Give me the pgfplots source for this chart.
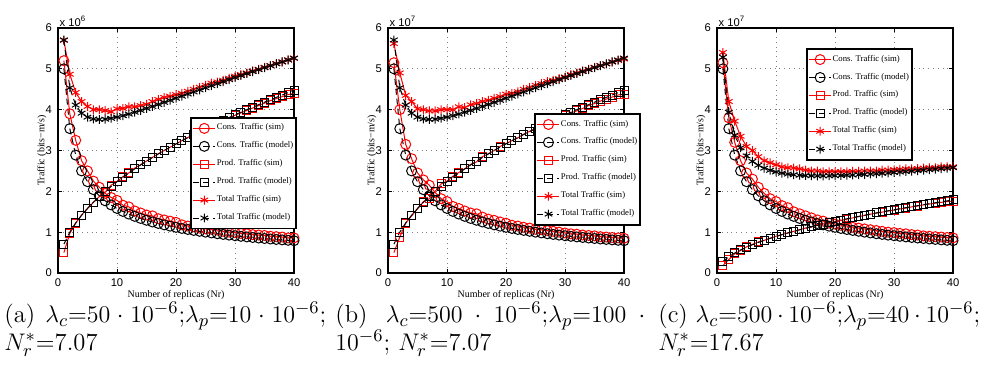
\documentclass[border=0pt]{standalone}
\usepackage{pgfplots}
\pgfplotsset{compat=1.18}
\usepackage{pgfplotstable}
\usepackage{fontspec}
\newfontfamily\helv{Liberation Sans}
\newfontfamily\tms{Liberation Serif}

\pgfplotstableread{
x cs cm ps pm ts tm
1 5.20 5.000 0.50 0.707 5.70 5.707
2 3.90 3.536 0.97 1.000 4.87 4.536
3 3.25 2.887 1.22 1.225 4.42 4.112
4 2.75 2.500 1.42 1.414 4.20 3.914
5 2.50 2.236 1.58 1.581 4.08 3.817
6 2.25 2.041 1.73 1.732 4.00 3.773
7 2.10 1.890 1.87 1.871 4.00 3.761
8 1.95 1.768 1.98 2.000 3.98 3.768
9 1.85 1.667 2.15 2.121 3.95 3.788
10 1.78 1.581 2.24 2.236 4.02 3.817
11 1.66 1.508 2.36 2.345 4.03 3.853
12 1.62 1.443 2.45 2.449 4.07 3.892
13 1.52 1.387 2.57 2.550 4.07 3.937
14 1.47 1.336 2.65 2.646 4.10 3.982
15 1.42 1.291 2.74 2.739 4.13 4.030
16 1.40 1.250 2.83 2.828 4.20 4.078
17 1.33 1.213 2.92 2.915 4.25 4.128
18 1.30 1.179 3.00 3.000 4.30 4.179
19 1.27 1.147 3.08 3.082 4.33 4.229
20 1.24 1.118 3.16 3.162 4.37 4.280
21 1.18 1.091 3.24 3.240 4.40 4.331
22 1.15 1.066 3.32 3.317 4.45 4.383
23 1.13 1.043 3.39 3.391 4.50 4.434
24 1.10 1.021 3.46 3.464 4.55 4.485
25 1.08 1.000 3.53 3.536 4.60 4.536
26 1.07 0.981 3.60 3.606 4.65 4.587
27 1.05 0.962 3.67 3.674 4.68 4.636
28 1.02 0.945 3.74 3.742 4.72 4.687
29 1.00 0.928 3.80 3.808 4.77 4.736
30 0.99 0.913 3.86 3.873 4.82 4.786
31 0.97 0.898 3.92 3.937 4.86 4.835
32 0.96 0.884 3.98 4.000 4.90 4.884
33 0.94 0.870 4.04 4.062 4.95 4.932
34 0.93 0.857 4.10 4.123 4.99 4.980
35 0.92 0.845 4.16 4.183 5.04 5.028
36 0.90 0.833 4.22 4.243 5.08 5.076
37 0.89 0.822 4.27 4.301 5.13 5.123
38 0.88 0.811 4.32 4.359 5.17 5.170
39 0.86 0.801 4.37 4.416 5.22 5.217
40 0.86 0.791 4.40 4.472 5.26 5.263
}\dataA

\pgfplotstableread{
x cs cm ps pm ts tm
1 5.15 5.000 0.50 0.707 5.62 5.707
2 4.00 3.536 0.88 1.000 4.90 4.536
3 3.15 2.887 1.22 1.225 4.35 4.112
4 2.80 2.500 1.40 1.414 4.20 3.914
5 2.45 2.236 1.57 1.581 4.02 3.817
6 2.28 2.041 1.75 1.732 4.00 3.773
7 2.15 1.890 1.82 1.871 3.97 3.761
8 1.97 1.768 2.00 2.000 3.97 3.768
9 1.82 1.667 2.18 2.121 4.00 3.788
10 1.75 1.581 2.25 2.236 4.00 3.817
11 1.63 1.508 2.37 2.345 4.00 3.853
12 1.58 1.443 2.46 2.449 4.07 3.892
13 1.52 1.387 2.55 2.550 4.05 3.937
14 1.47 1.336 2.66 2.646 4.12 3.982
15 1.45 1.291 2.72 2.739 4.15 4.030
16 1.37 1.250 2.85 2.828 4.20 4.078
17 1.32 1.213 2.92 2.915 4.23 4.128
18 1.29 1.179 3.00 3.000 4.28 4.179
19 1.25 1.147 3.10 3.082 4.32 4.229
20 1.22 1.118 3.17 3.162 4.38 4.280
21 1.17 1.091 3.24 3.240 4.40 4.331
22 1.15 1.066 3.31 3.317 4.44 4.383
23 1.12 1.043 3.40 3.391 4.50 4.434
24 1.10 1.021 3.47 3.464 4.54 4.485
25 1.07 1.000 3.53 3.536 4.60 4.536
26 1.06 0.981 3.60 3.606 4.64 4.587
27 1.04 0.962 3.67 3.674 4.69 4.636
28 1.02 0.945 3.73 3.742 4.72 4.687
29 1.00 0.928 3.80 3.808 4.76 4.736
30 0.98 0.913 3.86 3.873 4.80 4.786
31 0.96 0.898 3.92 3.937 4.86 4.835
32 0.95 0.884 3.97 4.000 4.90 4.884
33 0.93 0.870 4.03 4.062 4.95 4.932
34 0.92 0.857 4.10 4.123 4.99 4.980
35 0.91 0.845 4.15 4.183 5.04 5.028
36 0.89 0.833 4.21 4.243 5.08 5.076
37 0.88 0.822 4.26 4.301 5.12 5.123
38 0.87 0.811 4.31 4.359 5.17 5.170
39 0.86 0.801 4.36 4.416 5.21 5.217
40 0.85 0.791 4.38 4.472 5.24 5.263
}\dataB

\pgfplotstableread{
x cs cm ps pm ts tm
1 5.15 5.000 0.18 0.283 5.40 5.283
2 3.80 3.536 0.33 0.400 4.20 3.936
3 3.20 2.887 0.47 0.490 3.72 3.377
4 2.75 2.500 0.55 0.566 3.35 3.066
5 2.45 2.236 0.64 0.632 3.10 2.868
6 2.30 2.041 0.70 0.693 3.00 2.734
7 2.10 1.890 0.76 0.748 2.85 2.638
8 1.95 1.768 0.80 0.800 2.75 2.568
9 1.82 1.667 0.85 0.849 2.70 2.516
10 1.75 1.581 0.90 0.894 2.65 2.475
11 1.65 1.508 0.94 0.938 2.60 2.446
12 1.60 1.443 0.98 0.980 2.58 2.423
13 1.50 1.387 1.02 1.020 2.57 2.407
14 1.45 1.336 1.06 1.058 2.55 2.394
15 1.40 1.291 1.10 1.095 2.52 2.386
16 1.35 1.250 1.13 1.131 2.50 2.381
17 1.30 1.213 1.17 1.166 2.50 2.379
18 1.27 1.179 1.20 1.200 2.48 2.379
19 1.22 1.147 1.23 1.233 2.48 2.380
20 1.20 1.118 1.26 1.265 2.48 2.383
21 1.17 1.091 1.29 1.296 2.48 2.387
22 1.15 1.066 1.32 1.327 2.48 2.393
23 1.12 1.043 1.35 1.356 2.49 2.399
24 1.10 1.021 1.38 1.386 2.49 2.407
25 1.08 1.000 1.41 1.414 2.50 2.414
26 1.06 0.981 1.44 1.442 2.50 2.423
27 1.04 0.962 1.47 1.470 2.50 2.432
28 1.02 0.945 1.49 1.497 2.52 2.442
29 1.00 0.928 1.52 1.523 2.52 2.451
30 0.99 0.913 1.54 1.549 2.53 2.462
31 0.97 0.898 1.57 1.575 2.54 2.473
32 0.96 0.884 1.59 1.600 2.55 2.484
33 0.94 0.870 1.62 1.625 2.55 2.495
34 0.93 0.857 1.64 1.649 2.56 2.506
35 0.91 0.845 1.67 1.673 2.57 2.518
36 0.90 0.833 1.69 1.697 2.58 2.530
37 0.89 0.822 1.71 1.720 2.58 2.542
38 0.88 0.811 1.73 1.744 2.60 2.555
39 0.87 0.801 1.75 1.766 2.60 2.567
40 0.86 0.791 1.76 1.789 2.60 2.580
}\dataC

\pgfplotsset{
  simline/.style={red, line width=0.5pt, solid, mark options={solid, line width=0.5pt}},
  modline/.style={black, line width=0.5pt, dash pattern=on 3pt off 2pt, mark options={solid, line width=0.5pt}},
  tplot/.style={
    scale only axis, width=118pt, height=122.5pt,
    xmin=0, xmax=40, ymin=0, ymax=6,
    xtick={0,10,20,30,40}, ytick={0,1,2,3,4,5,6},
    tick align=inside, major tick length=2pt,
    grid=major, grid style={line width=0.4pt, dotted, black!50},
    axis line style={line width=0.6pt},
    tick style={line width=0.5pt, black},
    /pgf/number format/assume math mode=true,
    ticklabel style={font=\helv\fontsize{5.6}{6}\selectfont},
    xticklabel style={yshift=0.5pt},
    yticklabel style={xshift=0.5pt},
    xlabel={Number of replicas (Nr)},
    ylabel={Traffic (bits−m/s)},
    every axis x label/.style={at={(axis description cs:0.5,-0.09)}, anchor=center, font=\tms\fontsize{5}{6}\selectfont},
    every axis y label/.style={at={(axis description cs:-0.068,0.5)}, rotate=90, anchor=center, font=\tms\fontsize{5}{6}\selectfont},
    legend cell align=left,
    legend style={font=\tms\fontsize{4.35}{5}\selectfont, draw=black, line width=0.9pt,
      inner xsep=1pt, inner ysep=0.8pt, row sep=0pt,
      nodes={inner xsep=0.5pt, inner ysep=2.2pt}},
    legend image code/.code={
      \draw[mark repeat=2,mark phase=2,#1] plot coordinates {(0pt,0pt) (5.5pt,0pt) (11pt,0pt)};
    },
  },
}

\newcommand{\sixplots}[1]{%
  \addplot[simline, mark=o, mark size=2.5pt] table[x=x,y=cs] {#1};
  \addlegendentry{Cons. Traffic (sim)}
  \addplot[modline, mark=o, mark size=2.5pt] table[x=x,y=cm] {#1};
  \addlegendentry{Cons. Traffic (model)}
  \addplot[simline, mark=square, mark size=2pt] table[x=x,y=ps] {#1};
  \addlegendentry{Prod. Traffic (sim)}
  \addplot[modline, mark=square, mark size=2pt] table[x=x,y=pm] {#1};
  \addlegendentry{Prod. Traffic (model)}
  \addplot[simline, mark=asterisk, mark size=2.2pt] table[x=x,y=ts] {#1};
  \addlegendentry{Total Traffic (sim)}
  \addplot[modline, mark=asterisk, mark size=2.2pt] table[x=x,y=tm] {#1};
  \addlegendentry{Total Traffic (model)}
}

\begin{document}
\begin{tikzpicture}
\path[use as bounding box] (0,0) rectangle (495pt,185.5pt);

\begin{axis}[tplot, at={(29pt,49pt)}, anchor=south west,
  legend style={at={(axis description cs:0.559,0.637)}, anchor=north west},
  extra description/.code={\node[anchor=south west, inner sep=0.6pt, font=\helv\fontsize{5.6}{6}\selectfont] at (rel axis cs:0,1) {x 10\textsuperscript{6}};}]
\sixplots{\dataA}
\end{axis}

\begin{axis}[tplot, at={(194pt,49pt)}, anchor=south west,
  legend style={at={(axis description cs:0.619,0.653)}, anchor=north west},
  extra description/.code={\node[anchor=south west, inner sep=0.6pt, font=\helv\fontsize{5.6}{6}\selectfont] at (rel axis cs:0,1) {x 10\textsuperscript{7}};}]
\sixplots{\dataB}
\end{axis}

\begin{axis}[tplot, at={(358.5pt,49pt)}, anchor=south west,
  legend style={at={(axis description cs:0.376,0.918)}, anchor=north west},
  extra description/.code={\node[anchor=south west, inner sep=0.6pt, font=\helv\fontsize{5.6}{6}\selectfont] at (rel axis cs:0,1) {x 10\textsuperscript{7}};}]
\sixplots{\dataC}
\end{axis}

\node[anchor=base west, inner sep=0pt, text width=161pt, align=justify, font=\fontsize{12.3}{14}\selectfont] at (2pt,24.3pt)
  {(a) $\lambda_c$=$50\cdot10^{-6}$;$\lambda_p$=$10\cdot10^{-6}$; $N_r^*$=7.07};
\node[anchor=base west, inner sep=0pt, text width=161pt, align=justify, font=\fontsize{12.3}{14}\selectfont] at (167.5pt,24.3pt)
  {(b) $\lambda_c$=$500\cdot10^{-6}$;$\lambda_p$=$100\cdot{}$\linebreak $10^{-6}$; $N_r^*$=7.07};
\node[anchor=base west, inner sep=0pt, text width=161pt, align=justify, font=\fontsize{12.3}{14}\selectfont] at (329pt,24.3pt)
  {(c) $\lambda_c$=$500\cdot10^{-6}$;$\lambda_p$=$40\cdot10^{-6}$; $N_r^*$=17.67};
\end{tikzpicture}
\end{document}
